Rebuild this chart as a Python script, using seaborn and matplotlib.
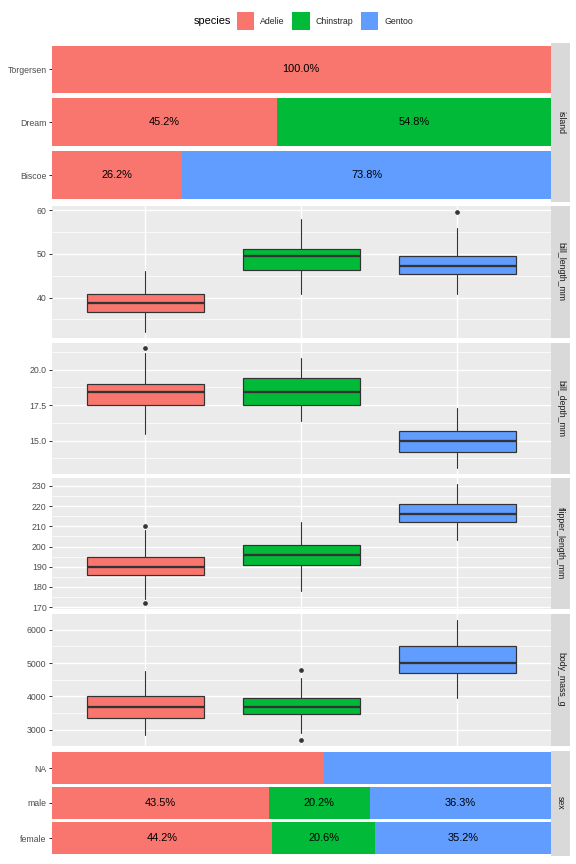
import numpy as np
import pandas as pd
import matplotlib
matplotlib.use("Agg")
import matplotlib.pyplot as plt
from matplotlib.ticker import MultipleLocator, AutoMinorLocator, FormatStrFormatter
from matplotlib.patches import Patch
import seaborn as sns

# ---------------- data ----------------
species = ["Adelie", "Chinstrap", "Gentoo"]
species_colors = ["#F8766D", "#00BA38", "#619CFF"]

island_levels = ["Torgersen", "Dream", "Biscoe"]
island_adelie = [100.0, 45.2, 26.2]
island_chinstrap = [0.0, 54.8, 0.0]
island_gentoo = [0.0, 0.0, 73.8]
island_show_labels = [True, True, True]

sex_levels = ["NA", "male", "female"]
sex_adelie = [54.5, 43.5, 44.2]
sex_chinstrap = [0.0, 20.2, 20.6]
sex_gentoo = [45.5, 36.3, 35.2]
sex_show_labels = [False, True, True]

# five-number summaries per species: [lower whisker, Q1, median, Q3, upper whisker]
bill_length_five = [[32.1, 36.75, 38.8, 40.75, 46.0],
                    [40.9, 46.35, 49.55, 51.08, 58.0],
                    [40.9, 45.3, 47.3, 49.55, 55.9]]
bill_length_out = [[], [], [59.6]]

bill_depth_five = [[15.5, 17.5, 18.4, 19.0, 21.2],
                   [16.4, 17.5, 18.45, 19.4, 20.8],
                   [13.1, 14.2, 15.0, 15.7, 17.3]]
bill_depth_out = [[21.5], [], []]

flipper_length_five = [[174, 186, 190, 195, 208],
                       [178, 191, 196, 201, 212],
                       [203, 212, 216, 221, 231]]
flipper_length_out = [[172, 210], [], []]

body_mass_five = [[2850, 3350, 3700, 4000, 4775],
                  [2900, 3487.5, 3700, 3950, 4550],
                  [3950, 4700, 5000, 5500, 6300]]
body_mass_out = [[], [2700, 4800], []]

# ---------------- style ----------------
sns.set_theme(style="darkgrid")
plt.rcParams["font.family"] = ["Liberation Sans", "DejaVu Sans"]

W, H = 576, 864
fig = plt.figure(figsize=(8, 12), dpi=72)
fig.patch.set_facecolor("white")

PANEL_L, PANEL_R = 51.5, 551.0
STRIP_R = 570.0
TICK_COLOR = "#333333"
LABEL_COLOR = "#4D4D4D"
BG = "#EBEBEB"


def add_panel(top, bottom):
    return fig.add_axes([PANEL_L / W, 1 - bottom / H, (PANEL_R - PANEL_L) / W, (bottom - top) / H])


def add_strip(top, bottom, name):
    sax = fig.add_axes([PANEL_R / W, 1 - bottom / H, (STRIP_R - PANEL_R) / W, (bottom - top) / H])
    sax.set_facecolor("#D9D9D9")
    sax.set_xticks([])
    sax.set_yticks([])
    sax.grid(False)
    for s in sax.spines.values():
        s.set_visible(False)
    sax.text(0.5, 0.5, name, rotation=-90, ha="center", va="center",
             transform=sax.transAxes, fontsize=8.8, color="#1A1A1A")


def style_y(ax):
    for s in ax.spines.values():
        s.set_visible(False)
    ax.tick_params(axis="y", which="major", left=True, length=2.75, width=1.0,
                   color=TICK_COLOR, labelcolor=LABEL_COLOR, labelsize=8.8, pad=2.2)
    ax.tick_params(axis="y", which="minor", left=False, length=0)
    ax.tick_params(axis="x", which="both", bottom=False, length=0, labelbottom=False)
    ax.set_xlabel("")
    ax.set_ylabel("")


def draw_bars(ax, levels, a, c, g, show):
    df = pd.DataFrame({"level": levels, "Adelie": a, "Chinstrap": c, "Gentoo": g})
    df["end_A"] = df["Adelie"]
    df["end_C"] = df["Adelie"] + df["Chinstrap"]
    df["end_G"] = df["end_C"] + df["Gentoo"]
    for col, color in [("end_G", species_colors[2]), ("end_C", species_colors[1]),
                       ("end_A", species_colors[0])]:
        sns.barplot(data=df, x=col, y="level", order=levels, color=color, width=0.9,
                    saturation=1, errorbar=None, orient="h", ax=ax, linewidth=0)
    for i, row in df.iterrows():
        if not show[i]:
            continue
        left = 0.0
        for sp in species:
            v = row[sp]
            if v > 0:
                ax.text(left + v / 2, i, f"{v:.1f}%", ha="center", va="center",
                        fontsize=11, color="black")
            left += v
    ax.set_xlim(0, 100)
    ax.set_ylim(len(levels) - 0.5, -0.5)
    ax.set_facecolor("white")
    ax.grid(False)
    style_y(ax)


def draw_box(ax, five, outs, major, fmt):
    stats = []
    for f, o in zip(five, outs):
        stats.append(dict(whislo=f[0], q1=f[1], med=f[2], q3=f[3], whishi=f[4], fliers=o))
    bp = ax.bxp(stats, positions=[0, 1, 2], widths=0.75, patch_artist=True, showcaps=False,
                boxprops=dict(edgecolor=TICK_COLOR, linewidth=1.2),
                medianprops=dict(color=TICK_COLOR, linewidth=2.3, solid_capstyle="butt"),
                whiskerprops=dict(color=TICK_COLOR, linewidth=1.1),
                flierprops=dict(marker="o", markerfacecolor=TICK_COLOR,
                                markeredgecolor=TICK_COLOR, markersize=3.6),
                manage_ticks=False)
    for patch, col in zip(bp["boxes"], species_colors):
        patch.set_facecolor(col)
    allv = [v for f in five for v in f] + [v for o in outs for v in o]
    lo, hi = min(allv), max(allv)
    pad = 0.05 * (hi - lo)
    ax.set_ylim(lo - pad, hi + pad)
    ax.set_xlim(-0.6, 2.6)
    ax.set_facecolor(BG)
    ax.set_axisbelow(True)
    ax.yaxis.set_major_locator(MultipleLocator(major))
    ax.yaxis.set_minor_locator(AutoMinorLocator(2))
    ax.yaxis.set_major_formatter(FormatStrFormatter(fmt))
    ax.set_xticks([0, 1, 2])
    ax.grid(False)
    ax.grid(which="major", axis="both", color="white", linewidth=1.4)
    ax.grid(which="minor", axis="y", color="white", linewidth=0.7)
    style_y(ax)


rows = [
    ("island", 43.0, 201.5),
    ("bill_length_mm", 206.0, 338.0),
    ("bill_depth_mm", 342.5, 473.5),
    ("flipper_length_mm", 478.0, 609.0),
    ("body_mass_g", 613.5, 746.0),
    ("sex", 750.5, 855.5),
]

for name, top, bottom in rows:
    ax = add_panel(top, bottom)
    if name == "island":
        draw_bars(ax, island_levels, island_adelie, island_chinstrap, island_gentoo, island_show_labels)
    elif name == "sex":
        draw_bars(ax, sex_levels, sex_adelie, sex_chinstrap, sex_gentoo, sex_show_labels)
    elif name == "bill_length_mm":
        draw_box(ax, bill_length_five, bill_length_out, 10, "%d")
    elif name == "bill_depth_mm":
        draw_box(ax, bill_depth_five, bill_depth_out, 2.5, "%.1f")
    elif name == "flipper_length_mm":
        draw_box(ax, flipper_length_five, flipper_length_out, 10, "%d")
    elif name == "body_mass_g":
        draw_box(ax, body_mass_five, body_mass_out, 1000, "%d")
    add_strip(top, bottom, name)

# legend
fig.text(194 / W, 1 - 21 / H, "species", fontsize=11, color="black", ha="left", va="center")
handles = [Patch(facecolor=c, edgecolor="none", label=s) for s, c in zip(species, species_colors)]
fig.legend(handles=handles, loc="center left", bbox_to_anchor=(237 / W, 1 - 21 / H), ncol=3,
           frameon=False, fontsize=8.8, handlelength=1.96, handleheight=2.645,
           handletextpad=0.7, columnspacing=0.85, borderpad=0, borderaxespad=0)

fig.savefig("out.png", dpi=72)
